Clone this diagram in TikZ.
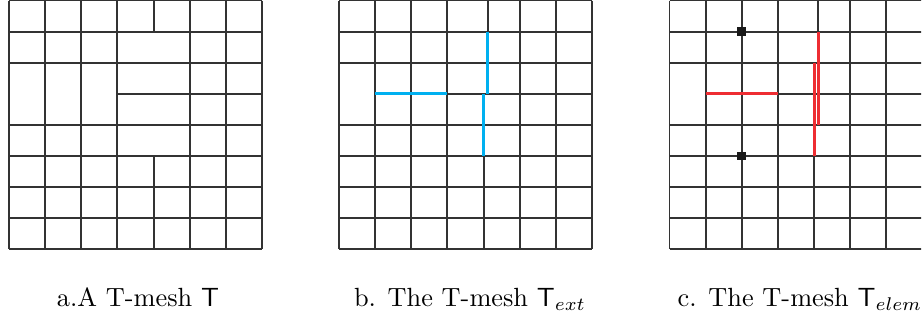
\documentclass[tikz,border=0pt]{standalone}
\usepackage{tikz}
\usepackage{amsmath}
\usepackage{xcolor}
\usetikzlibrary{positioning}

\definecolor{extblue}{RGB}{0,176,240}
\definecolor{elemred}{RGB}{238,45,50}

\tikzset{
    meshline/.style={line width=0.7pt, black!80},
    extline/.style={line width=1.2pt, extblue},
    elemline/.style={line width=1.2pt, elemred},
    vtx/.style={rectangle, fill=black!90, inner sep=0pt, minimum size=3.4pt},
    caption/.style={anchor=base, inner sep=0pt}
}

\begin{document}
\begin{tikzpicture}[x=0.38pt, y=-0.38pt]
    \useasboundingbox (0,0) rectangle (922,320);
    \clip (0,0) rectangle (921,320);

    % Mesh a: T-mesh T
    \begin{scope}[shift={(9,0.5)}, xscale=36.14, yscale=31.1]
        \foreach \i in {0,1,2,3,5,6,7}
            \draw[meshline] (\i,0) -- (\i,8);
        \draw[meshline] (4.01,0) -- (4.01,1);
        \draw[meshline] (4.01,5) -- (4.01,8);
        \foreach \j in {0,1,2,4,5,6,7,8}
            \draw[meshline] (0,\j) -- (7,\j);
        \draw[meshline] (3,3) -- (7,3);
    \end{scope}

    % Mesh b: extended T-mesh
    \begin{scope}[shift={(339,0.5)}, xscale=36.14, yscale=31.1]
        \foreach \i in {0,1,2,3,5,6,7}
            \draw[meshline] (\i,0) -- (\i,8);
        \draw[meshline] (4.12,0) -- (4.12,1);
        \draw[meshline] (4.01,5) -- (4.01,8);
        \foreach \j in {0,1,2,4,5,6,7,8}
            \draw[meshline] (0,\j) -- (7,\j);
        \draw[meshline] (3,3) -- (7,3);
        % extensions
        \draw[extline] (1,3) -- (3,3);
        \draw[extline] (4.12,1) -- (4.12,3);
        \draw[extline] (4.01,3) -- (4.01,5);
    \end{scope}

    % Mesh c: element T-mesh
    \begin{scope}[shift={(669.5,0.5)}, xscale=36.14, yscale=31.1]
        \foreach \i in {0,1,2,3,5,6,7}
            \draw[meshline] (\i,0) -- (\i,8);
        \draw[meshline] (4.12,0) -- (4.12,1);
        \draw[meshline] (4.01,5) -- (4.01,8);
        \foreach \j in {0,1,2,4,5,6,7,8}
            \draw[meshline] (0,\j) -- (7,\j);
        \draw[meshline] (3,3) -- (7,3);
        % extensions
        \draw[elemline] (1,3) -- (3,3);
        \draw[elemline] (4.12,1) -- (4.12,4);
        \draw[elemline] (4.01,2) -- (4.01,5);
        % vertices
        \node[vtx] (vtop) at (2,1) {};
        \node[vtx] (vbot) at (2,5) {};
    \end{scope}

    % Captions
    \node[caption] (capA) at (138,306.5) {a.A T-mesh $\mathsf{T}$};
    \node[caption] (capB) at (470,306.5) {b. The T-mesh $\mathsf{T}_{ext}$};
    \node[caption] (capC) at (800,306.5) {c. The T-mesh $\mathsf{T}_{elem}$};
\end{tikzpicture}
\end{document}
